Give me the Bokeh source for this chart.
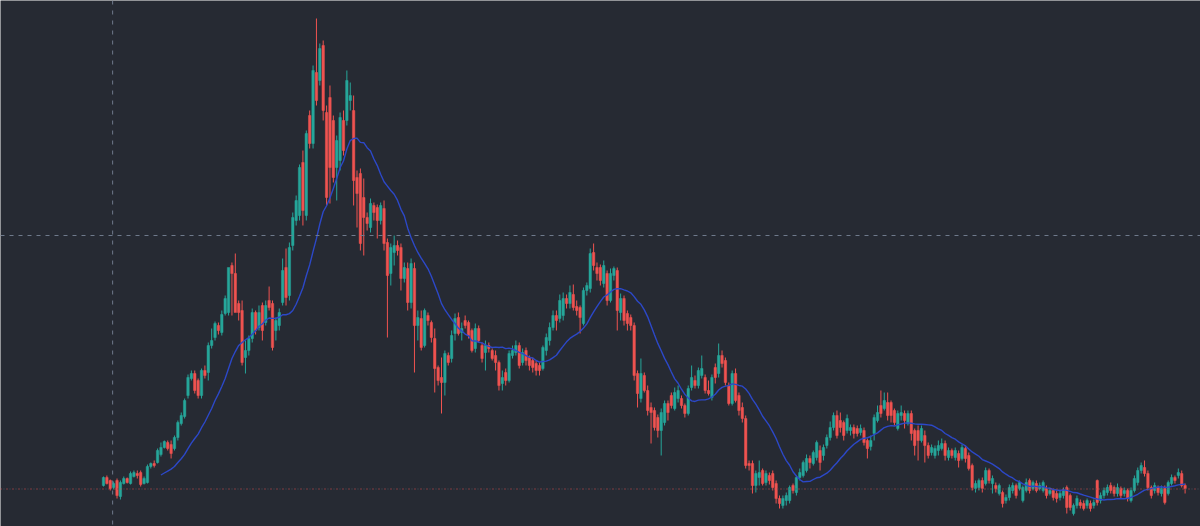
import pandas as pd
from bokeh.plotting import figure
from bokeh.models import ColumnDataSource, Range1d, Span
from bokeh.embed import file_html
from bokeh.resources import INLINE

# OHLC values (price units), one candle per session
opens = [35,43,40,33,40,24,37,42,37,44,47,48,37,38,54,57,58,66,73,78,
         76,72,83,97,104,125,142,147,140,125,150,148,175,183,195,188,207,208,255,247,
         217,210,163,170,182,208,193,215,198,220,217,190,195,218,253,225,275,300,305,358,
         305,405,377,448,440,475,408,423,400,353,360,400,400,420,410,343,347,323,303,293,
         315,313,300,312,278,247,268,275,273,242,252,218,252,195,202,175,205,198,182,153,
         143,138,165,162,187,203,188,200,198,190,172,192,175,168,175,170,165,158,137,148,
         140,165,168,175,158,170,163,160,157,155,152,170,180,193,205,202,205,222,217,226,
         214,213,197,230,232,268,253,253,237,247,220,245,250,208,222,207,203,195,147,122,
         145,130,113,110,103,90,98,117,125,112,122,122,115,107,133,140,135,145,143,130,
         123,153,147,165,160,135,117,147,125,113,102,57,57,35,43,50,38,45,47,37,
         22,15,20,20,35,28,43,45,50,62,57,63,70,65,75,83,93,105,100,98,
         90,90,93,92,88,90,80,74,87,100,115,112,118,118,110,92,105,107,97,107,
         90,90,80,85,75,68,65,70,72,77,63,70,63,67,62,72,65,55,32,33,
         40,37,50,37,35,27,28,20,23,30,35,32,20,30,40,32,37,32,30,32,
         27,30,27,23,25,33,25,7,15,18,17,15,17,15,40,20,25,28,35,33,
         27,32,27,30,20,30,38,50,53,47,33,30,33,27,32,27,37,43,45,47,
         35]
highs = [44,45,41,39,42,40,44,43,49,50,50,50,44,56,58,60,72,78,80,80,
         80,85,100,108,122,146,150,150,142,152,155,178,192,199,198,210,225,232,258,267,
         220,220,180,185,212,210,215,218,220,234,220,203,212,262,272,278,308,325,356,370,
         390,410,455,502,477,480,415,435,405,385,408,410,450,438,425,350,352,342,308,322,
         318,316,318,320,282,277,285,280,277,258,258,262,258,210,210,212,208,200,192,155,
         163,170,168,190,207,208,198,205,200,192,197,195,178,180,178,172,170,160,150,152,
         170,175,180,178,172,173,165,163,160,158,175,187,198,210,210,226,228,226,235,236,
         220,215,233,238,272,277,258,256,260,250,252,254,253,227,225,210,206,198,150,162,
         148,135,118,113,106,112,120,120,128,133,135,125,117,135,155,145,153,165,146,140,
         146,157,177,170,163,138,150,152,128,118,105,60,60,50,60,52,50,48,50,40,
         25,25,28,35,37,45,52,60,66,65,70,80,75,76,86,99,108,110,108,100,
         106,96,96,95,96,93,82,85,106,115,130,128,128,120,112,110,115,110,110,110,
         92,95,95,90,78,76,75,80,82,80,73,72,73,70,76,75,68,57,40,42,
         43,53,52,45,38,37,30,26,36,38,37,40,35,42,42,40,40,38,40,35,
         33,32,30,30,33,35,27,17,25,21,20,22,20,21,41,28,33,36,38,35,
         37,34,33,32,33,45,53,58,60,50,35,38,35,35,35,40,46,45,52,50,
         37]
lows = [34,36,30,31,22,21,36,37,36,43,42,34,36,37,52,53,57,64,72,70,
        62,70,80,95,102,122,140,127,122,122,142,140,172,180,186,185,205,205,205,244,
        200,155,147,165,178,186,190,180,195,210,170,180,190,215,215,220,270,295,300,295,
        300,372,372,415,435,400,315,317,338,320,350,365,395,410,315,293,270,265,290,288,
        300,282,296,270,183,235,255,265,230,238,210,212,148,180,170,173,195,178,128,135,
        107,125,155,158,180,185,180,192,182,168,168,178,158,150,168,160,150,130,130,135,
        138,162,165,152,155,155,150,148,145,145,150,165,175,190,190,198,200,212,212,210,
        205,187,195,225,228,250,240,235,233,215,218,240,190,200,195,190,190,140,113,118,
        128,105,77,90,83,65,95,100,112,110,118,112,103,105,130,132,132,142,127,125,
        120,137,143,153,135,115,115,118,105,98,52,50,27,28,35,35,35,36,30,17,
        12,12,15,17,27,25,40,43,48,52,55,60,50,60,72,80,90,82,88,80,
        87,85,82,84,85,75,62,70,80,98,103,110,100,98,95,90,100,92,95,80,
        65,60,78,58,62,65,62,65,70,60,60,62,60,53,60,58,50,30,28,30,
        28,35,37,27,28,25,13,17,20,27,22,30,18,28,27,30,28,30,28,22,
        25,20,18,20,22,7,10,5,12,12,10,12,9,12,15,17,22,25,27,24,
        24,22,24,19,18,28,35,47,44,30,22,27,25,24,16,25,35,37,42,33,
        27]
closes = [43,37,32,37,25,38,42,38,47,48,45,36,42,54,57,55,70,73,79,72,
          67,83,98,105,120,143,147,130,125,150,145,175,180,197,190,206,222,253,247,208,
          208,158,170,182,208,190,208,190,215,213,173,200,208,250,223,273,303,320,353,310,
          387,377,450,420,472,410,323,353,343,380,403,370,440,425,340,327,277,303,297,317,
          308,300,315,277,245,273,275,270,242,253,218,257,195,203,173,210,200,183,152,140,
          138,167,158,185,202,187,192,195,185,170,192,180,162,175,172,162,158,135,143,140,
          167,170,175,155,168,160,155,153,150,150,173,183,193,205,200,220,222,217,228,213,
          210,203,230,235,267,255,247,240,255,220,247,252,210,222,200,197,195,145,127,147,
          130,110,108,93,90,108,117,108,115,128,130,115,107,132,143,135,150,152,130,127,
          143,143,165,157,138,117,147,120,110,102,55,55,35,47,48,37,47,40,33,22,
          17,22,25,33,30,43,48,58,62,58,68,78,58,73,83,93,105,85,93,85,
          102,93,87,87,92,78,72,80,103,108,107,120,105,105,98,107,108,100,107,87,
          75,80,92,75,65,73,72,75,77,65,70,65,70,60,73,62,52,33,37,40,
          32,50,40,42,32,35,17,23,33,35,25,38,33,38,30,38,30,35,38,25,
          30,23,22,27,30,13,13,15,22,15,12,20,12,18,18,25,30,33,30,27,
          33,25,30,22,30,42,50,55,47,33,25,35,28,32,18,38,43,40,48,35,
          32]

MA_PERIOD = 18
CROSSHAIR_INDEX = 2.7
CROSSHAIR_PRICE = 285

UP = "#26a69a"
DOWN = "#ef5350"
BG = "#262a33"

idx = list(range(len(closes)))
colors = [UP if c >= o else DOWN for o, c in zip(opens, closes)]
body_top = [max(o, c) for o, c in zip(opens, closes)]
body_bot = [min(o, c) for o, c in zip(opens, closes)]
src = ColumnDataSource(dict(x=idx, o=opens, h=highs, l=lows, c=closes,
                            top=body_top, bottom=body_bot, color=colors))

ma = pd.Series(closes, dtype=float).rolling(MA_PERIOD).mean()
ma_src = ColumnDataSource(dict(x=idx, y=ma.tolist()))

step = 3.38
left_px = 103
p = figure(width=1200, height=526, output_backend="svg", toolbar_location=None,
           x_axis_type=None, y_axis_type=None, min_border=0,
           x_range=Range1d(-left_px / step, (1200 - left_px) / step),
           y_range=Range1d(-6, 520))
p.background_fill_color = BG
p.border_fill_color = BG
p.outline_line_color = None
p.grid.visible = False

# last price line (dotted)
p.add_layout(Span(location=closes[-1] - 0.5, dimension="width", line_color="#4a505c",
                  line_dash="1 5", line_dash_offset=3, line_width=1))
p.add_layout(Span(location=closes[-1] - 0.5, dimension="width", line_color=DOWN,
                  line_dash="1 5", line_width=1, line_alpha=0.9))

p.segment(x0="x", y0="l", x1="x", y1="h", color="color", line_width=1, source=src)
p.vbar(x="x", width=0.72, top="top", bottom="bottom", fill_color="color",
       line_color="color", line_width=0.5, source=src)

p.line(x="x", y="y", source=ma_src, line_color="#2c48c8", line_width=1.4)

# crosshair
p.add_layout(Span(location=CROSSHAIR_INDEX, dimension="height", line_color="#6f7a8c",
                  line_dash="4 6", line_width=1))
p.add_layout(Span(location=CROSSHAIR_PRICE, dimension="width", line_color="#6f7a8c",
                  line_dash="4 5", line_width=1))

open("out.html", "w").write(file_html(p, INLINE))
